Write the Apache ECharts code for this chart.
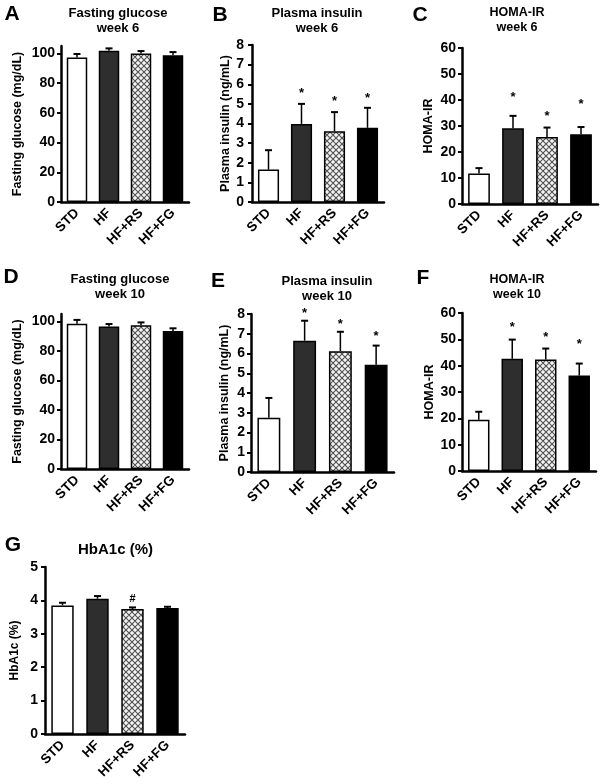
<!DOCTYPE html>
<html>
<head>
<meta charset="utf-8">
<script src="https://cdn.jsdelivr.net/npm/echarts@6/dist/echarts.min.js"></script>
<style>
html,body{margin:0;padding:0;background:#fff;}
#chart{width:600px;height:784px;}
</style>
</head>
<body>
<div id="chart"></div>
<script>
// ---------- DATA ----------
const categories = ['STD', 'HF', 'HF+RS', 'HF+FG'];

const glucoseW6 = [97.3, 101.8, 100.0, 98.7];
const glucoseW6Sem = [2.3, 1.6, 1.6, 2.2];

const insulinW6 = [1.65, 3.98, 3.6, 3.78];
const insulinW6Sem = [0.99, 1.02, 0.98, 1.02];
const insulinW6Marks = [null, 5.7, 5.26, 5.44];

const homaW6 = [11.7, 29.1, 25.8, 26.8];
const homaW6Sem = [2.1, 4.8, 3.6, 2.8];
const homaW6Marks = [null, 42, 35, 39.5];

const glucoseW10 = [98.4, 96.6, 97.3, 93.5];
const glucoseW10Sem = [2.6, 1.6, 2.0, 1.8];

const insulinW10 = [2.75, 6.65, 6.12, 5.43];
const insulinW10Sem = [1.0, 1.01, 0.98, 0.97];
const insulinW10Marks = [null, 8.17, 7.63, 7.0];

const homaW10 = [19.5, 42.6, 42.3, 36.3];
const homaW10Sem = [3.0, 7.3, 4.2, 4.5];
const homaW10Marks = [null, 55.6, 51.8, 49.3];

const hba1c = [3.85, 4.05, 3.74, 3.77];
const hba1cSem = [0.08, 0.08, 0.05, 0.04];
const hba1cMarks = [null, null, 4.05, null];

const glucoseTicks = [0, 20, 40, 60, 80, 100];

// ---------- STYLE / LAYOUT ----------
const FONT = '"Liberation Sans", Arial, sans-serif';

function makePattern() {
  const c = document.createElement('canvas');
  c.width = 6; c.height = 6;
  const g = c.getContext('2d');
  g.fillStyle = '#f4f4f4';
  g.fillRect(0, 0, 6, 6);
  g.strokeStyle = '#505050';
  g.lineWidth = 1.1;
  g.beginPath();
  g.moveTo(0, 0); g.lineTo(6, 6);
  g.moveTo(6, 0); g.lineTo(0, 6);
  g.moveTo(-3, 3); g.lineTo(3, 9);
  g.moveTo(3, -3); g.lineTo(9, 3);
  g.moveTo(3, -3); g.lineTo(-3, 3);
  g.moveTo(9, 3); g.lineTo(3, 9);
  g.stroke();
  return c;
}
const fills = ['#ffffff', '#2e2e2e', { image: makePattern(), repeat: 'repeat' }, '#000000'];

const panels = [
  { letter: 'A', lx: 12, ly: 14, title: 'Fasting glucose\nweek 6', tx: 118, ty: 20.5, tfs: 13,
    grid: { left: 61, top: 46, width: 128, height: 156 }, max: 105, interval: 20, custom: glucoseTicks,
    yName: 'Fasting glucose (mg/dL)', nameGap: 37, nfs: 12.5, labelMargin: 6,
    values: glucoseW6, sem: glucoseW6Sem, marks: null, sym: '*' },
  { letter: 'B', lx: 220, ly: 15, title: 'Plasma insulin\nweek 6', tx: 317, ty: 20.5, tfs: 13,
    grid: { left: 252, top: 45, width: 132, height: 157 }, max: 8, interval: 1,
    yName: 'Plasma insulin (ng/mL)', nameGap: 19, nfs: 12.5, labelMargin: 8,
    values: insulinW6, sem: insulinW6Sem, marks: insulinW6Marks, sym: '*' },
  { letter: 'C', lx: 420, ly: 15, title: 'HOMA-IR\nweek 6', tx: 517, ty: 20.5, tfs: 12.5,
    grid: { left: 462, top: 48, width: 136, height: 156 }, max: 60, interval: 10,
    yName: 'HOMA-IR', nameGap: 27, nfs: 12.5, labelMargin: 6,
    values: homaW6, sem: homaW6Sem, marks: homaW6Marks, sym: '*' },
  { letter: 'D', lx: 11, ly: 277, title: 'Fasting glucose\nweek 10', tx: 120, ty: 287, tfs: 13,
    grid: { left: 61, top: 314, width: 128, height: 155 }, max: 105, interval: 20, custom: glucoseTicks,
    yName: 'Fasting glucose (mg/dL)', nameGap: 37, nfs: 12.5, labelMargin: 6,
    values: glucoseW10, sem: glucoseW10Sem, marks: null, sym: '*' },
  { letter: 'E', lx: 218, ly: 281, title: 'Plasma insulin\nweek 10', tx: 327, ty: 289, tfs: 13,
    grid: { left: 251, top: 314, width: 143, height: 158 }, max: 8, interval: 1,
    yName: 'Plasma insulin (ng/mL)', nameGap: 20, nfs: 12.5, labelMargin: 6,
    values: insulinW10, sem: insulinW10Sem, marks: insulinW10Marks, sym: '*' },
  { letter: 'F', lx: 423, ly: 278, title: 'HOMA-IR\nweek 10', tx: 517, ty: 287.5, tfs: 12.5,
    grid: { left: 462, top: 313, width: 134, height: 158 }, max: 60, interval: 10,
    yName: 'HOMA-IR', nameGap: 26, nfs: 12.5, labelMargin: 6,
    values: homaW10, sem: homaW10Sem, marks: homaW10Marks, sym: '*' },
  { letter: 'G', lx: 13, ly: 545, title: 'HbA1c (%)', tx: 115.5, ty: 550, tfs: 15,
    grid: { left: 45, top: 567, width: 140, height: 167 }, max: 5, interval: 1,
    yName: 'HbA1c (%)', nameGap: 24, nfs: 12, labelMargin: 7,
    values: hba1c, sem: hba1cSem, marks: hba1cMarks, sym: '#' }
];

const option = {
  animation: false,
  backgroundColor: '#ffffff',
  grid: [], xAxis: [], yAxis: [], series: [], graphic: []
};

panels.forEach((p, k) => {
  option.grid.push(Object.assign({ containLabel: false }, p.grid));
  option.xAxis.push({
    type: 'category', gridIndex: k, data: categories,
    axisLine: { show: true, lineStyle: { color: '#000', width: 2.5 } },
    axisTick: { show: false },
    axisLabel: { rotate: 45, interval: 0, margin: 9, color: '#000', fontFamily: FONT, fontWeight: 'bold', fontSize: 13.5 }
  });
  const yAx = {
    type: 'value', gridIndex: k, min: 0, max: p.max, interval: p.interval,
    splitLine: { show: false },
    axisLine: { show: true, lineStyle: { color: '#000', width: 2.5 } },
    axisTick: { show: true, length: 4, lineStyle: { color: '#000', width: 2 } },
    axisLabel: { margin: p.labelMargin, color: '#000', fontFamily: FONT, fontWeight: 'bold', fontSize: 14 },
    name: p.yName, nameLocation: 'middle', nameGap: p.nameGap,
    nameTextStyle: { color: '#000', fontFamily: FONT, fontWeight: 'bold', fontSize: p.nfs }
  };
  if (p.custom) {
    yAx.axisLabel.customValues = p.custom;
    yAx.axisTick.customValues = p.custom;
  }
  option.yAxis.push(yAx);

  option.series.push({
    type: 'bar', xAxisIndex: k, yAxisIndex: k, barWidth: '64%',
    itemStyle: { borderColor: '#000', borderWidth: 1.5 },
    data: p.values.map((v, i) => ({ value: v, itemStyle: { color: fills[i] } })),
    z: 2
  });

  option.series.push({
    type: 'custom', xAxisIndex: k, yAxisIndex: k, z: 3,
    data: p.values.map((v, i) => [i, v, v + p.sem[i]]),
    renderItem: function (params, api) {
      const a = api.coord([api.value(0), api.value(1)]);
      const b = api.coord([api.value(0), api.value(2)]);
      const cap = 3.5;
      return {
        type: 'group',
        children: [
          { type: 'line', shape: { x1: a[0], y1: a[1], x2: b[0], y2: b[1] }, style: { stroke: '#000', lineWidth: 1.5 } },
          { type: 'line', shape: { x1: b[0] - cap, y1: b[1], x2: b[0] + cap, y2: b[1] }, style: { stroke: '#000', lineWidth: 2 } }
        ]
      };
    }
  });

  if (p.marks) {
    const md = [];
    p.marks.forEach((m, i) => { if (m !== null) md.push([i, m]); });
    const sym = p.sym;
    option.series.push({
      type: 'custom', xAxisIndex: k, yAxisIndex: k, z: 4,
      data: md,
      renderItem: function (params, api) {
        const c = api.coord([api.value(0), api.value(1)]);
        const isStar = sym === '*';
        return {
          type: 'text', x: c[0], y: c[1] + (isStar ? 3 : 0),
          style: { text: sym, textAlign: 'center', textVerticalAlign: 'middle',
                   font: 'bold ' + (isStar ? 13 : 11) + 'px ' + FONT, fill: '#000' }
        };
      }
    });
  }

  option.graphic.push({
    type: 'text', x: p.lx, y: p.ly,
    style: { text: p.letter, textAlign: 'center', textVerticalAlign: 'middle', font: 'bold 21px ' + FONT, fill: '#000' }
  });
  option.graphic.push({
    type: 'text', x: p.tx, y: p.ty,
    style: { text: p.title, textAlign: 'center', textVerticalAlign: 'middle', lineHeight: 15, font: 'bold ' + p.tfs + 'px ' + FONT, fill: '#000' }
  });
});

const chart = echarts.init(document.getElementById('chart'), null, { renderer: 'canvas', width: 600, height: 784 });
chart.setOption(option);
</script>
</body>
</html>
